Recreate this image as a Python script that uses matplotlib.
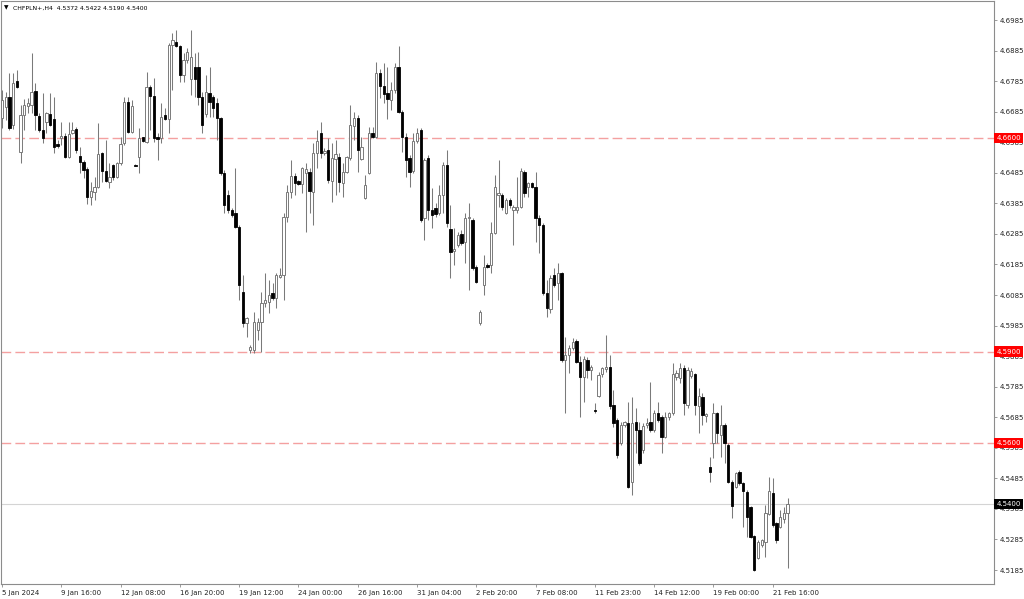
import matplotlib
matplotlib.use("Agg")
import matplotlib.pyplot as plt
import matplotlib.transforms as mtransforms
import numpy as np

symbol_header = "CHFPLN+,H4  4.5372 4.5422 4.5190 4.5400"

# H4 candles, 5 Jan 2024 04:00 .. 22 Feb 2024 08:00
opens = [
    4.6664, 4.6700, 4.6733, 4.6642, 4.6785, 4.6553, 4.6674, 4.6703, 4.6707, 4.6753,
    4.6671, 4.6625, 4.6651, 4.6677, 4.6661, 4.6579, 4.6599, 4.6605, 4.6537, 4.6615,
    4.6629, 4.6540, 4.6520, 4.6497, 4.6406, 4.6422, 4.6439, 4.6550, 4.6491, 4.6455,
    4.6510, 4.6471, 4.6517, 4.6582, 4.6716, 4.6618, 4.6510, 4.6537, 4.6602, 4.6586,
    4.6765, 4.6736, 4.6602, 4.6599, 4.6674, 4.6661, 4.6903, 4.6913, 4.6900, 4.6805,
    4.6854, 4.6792, 4.6831, 4.6831, 4.6733, 4.6677, 4.6746, 4.6733, 4.6713, 4.6664,
    4.6484, 4.6413, 4.6363, 4.6353, 4.6308, 4.6095, 4.5994, 4.5906, 4.5906, 4.5971,
    4.5997, 4.6059, 4.6063, 4.6092, 4.6075, 4.6144, 4.6151, 4.6340, 4.6422, 4.6474,
    4.6458, 4.6448, 4.6484, 4.6488, 4.6422, 4.6550, 4.6615, 4.6550, 4.6560, 4.6458,
    4.6530, 4.6537, 4.6452, 4.6488, 4.6533, 4.6638, 4.6664, 4.6530, 4.6403, 4.6484,
    4.6615, 4.6602, 4.6811, 4.6769, 4.6746, 4.6723, 4.6756, 4.6831, 4.6684, 4.6602,
    4.6533, 4.6491, 4.6589, 4.6625, 4.6337, 4.6533, 4.6363, 4.6370, 4.6353, 4.6413,
    4.6510, 4.6301, 4.6229, 4.6249, 4.6285, 4.6259, 4.6337, 4.6331, 4.6177, 4.5994,
    4.6118, 4.6184, 4.6184, 4.6288, 4.6413, 4.6413, 4.6353, 4.6396, 4.6363, 4.6363,
    4.6373, 4.6488, 4.6439, 4.6452, 4.6439, 4.6337, 4.6314, 4.6092, 4.6039, 4.6151,
    4.6124, 4.6157, 4.5873, 4.5889, 4.5912, 4.5935, 4.5866, 4.5817, 4.5873, 4.5840,
    4.5709, 4.5755, 4.5827, 4.5843, 4.5850, 4.5726, 4.5677, 4.5601, 4.5660, 4.5667,
    4.5474, 4.5670, 4.5644, 4.5579, 4.5660, 4.5670, 4.5644, 4.5699, 4.5686, 4.5621,
    4.5686, 4.5699, 4.5817, 4.5814, 4.5847, 4.5726, 4.5820, 4.5827, 4.5722, 4.5752,
    4.5690, 4.5523, 4.5601, 4.5699, 4.5627, 4.5660, 4.5595, 4.5474, 4.5457, 4.5507,
    4.5471, 4.5441, 4.5392, 4.5297, 4.5225, 4.5268, 4.5278, 4.5369, 4.5438, 4.5340,
    4.5327, 4.5353, 4.5372,
]
highs = [
    4.6756, 4.6749, 4.6811, 4.6811, 4.6821, 4.6707, 4.6726, 4.6730, 4.6877, 4.6778,
    4.6680, 4.6746, 4.6684, 4.6746, 4.6733, 4.6592, 4.6651, 4.6615, 4.6651, 4.6651,
    4.6635, 4.6569, 4.6527, 4.6504, 4.6455, 4.6471, 4.6648, 4.6553, 4.6592, 4.6517,
    4.6513, 4.6520, 4.6602, 4.6733, 4.6733, 4.6723, 4.6513, 4.6632, 4.6602, 4.6815,
    4.6772, 4.6795, 4.6615, 4.6713, 4.6697, 4.6909, 4.6942, 4.6952, 4.6903, 4.6877,
    4.6893, 4.6952, 4.6877, 4.6880, 4.6749, 4.6805, 4.6831, 4.6739, 4.6730, 4.6667,
    4.6494, 4.6429, 4.6370, 4.6501, 4.6314, 4.6151, 4.6013, 4.5922, 4.6030, 4.6010,
    4.6095, 4.6157, 4.6134, 4.6124, 4.6157, 4.6174, 4.6353, 4.6445, 4.6527, 4.6484,
    4.6461, 4.6504, 4.6517, 4.6501, 4.6582, 4.6625, 4.6651, 4.6566, 4.6599, 4.6582,
    4.6592, 4.6550, 4.6517, 4.6540, 4.6707, 4.6684, 4.6674, 4.6602, 4.6478, 4.6635,
    4.6635, 4.6847, 4.6824, 4.6844, 4.6831, 4.6782, 4.6844, 4.6900, 4.6690, 4.6615,
    4.6543, 4.6615, 4.6632, 4.6632, 4.6533, 4.6543, 4.6435, 4.6386, 4.6445, 4.6520,
    4.6560, 4.6380, 4.6304, 4.6291, 4.6298, 4.6353, 4.6386, 4.6337, 4.6184, 4.6036,
    4.6216, 4.6190, 4.6324, 4.6478, 4.6527, 4.6419, 4.6403, 4.6403, 4.6380, 4.6471,
    4.6501, 4.6494, 4.6455, 4.6455, 4.6488, 4.6347, 4.6321, 4.6134, 4.6151, 4.6174,
    4.6190, 4.6161, 4.5948, 4.5922, 4.5945, 4.5942, 4.5886, 4.5886, 4.5883, 4.5857,
    4.5732, 4.5834, 4.5850, 4.5955, 4.5889, 4.5775, 4.5683, 4.5670, 4.5673, 4.5735,
    4.5752, 4.5716, 4.5670, 4.5667, 4.5683, 4.5801, 4.5709, 4.5735, 4.5693, 4.5703,
    4.5703, 4.5863, 4.5840, 4.5863, 4.5857, 4.5850, 4.5847, 4.5830, 4.5781, 4.5765,
    4.5699, 4.5556, 4.5732, 4.5703, 4.5726, 4.5667, 4.5601, 4.5480, 4.5507, 4.5513,
    4.5474, 4.5448, 4.5395, 4.5301, 4.5284, 4.5287, 4.5399, 4.5490, 4.5487, 4.5343,
    4.5382, 4.5392, 4.5422,
]
lows = [
    4.6632, 4.6658, 4.6625, 4.6629, 4.6762, 4.6517, 4.6625, 4.6680, 4.6680, 4.6625,
    4.6618, 4.6582, 4.6615, 4.6638, 4.6550, 4.6566, 4.6576, 4.6533, 4.6533, 4.6612,
    4.6550, 4.6484, 4.6468, 4.6383, 4.6380, 4.6396, 4.6435, 4.6455, 4.6455, 4.6435,
    4.6461, 4.6468, 4.6510, 4.6576, 4.6615, 4.6615, 4.6507, 4.6484, 4.6586, 4.6582,
    4.6625, 4.6586, 4.6527, 4.6582, 4.6658, 4.6615, 4.6756, 4.6896, 4.6782, 4.6782,
    4.6844, 4.6739, 4.6733, 4.6707, 4.6615, 4.6667, 4.6667, 4.6667, 4.6592, 4.6478,
    4.6353, 4.6353, 4.6340, 4.6304, 4.6069, 4.5981, 4.5948, 4.5896, 4.5896, 4.5938,
    4.5899, 4.6046, 4.6026, 4.6069, 4.6043, 4.6141, 4.6069, 4.6324, 4.6403, 4.6413,
    4.6445, 4.6419, 4.6291, 4.6353, 4.6314, 4.6501, 4.6533, 4.6543, 4.6452, 4.6389,
    4.6413, 4.6422, 4.6406, 4.6484, 4.6527, 4.6592, 4.6488, 4.6527, 4.6399, 4.6481,
    4.6599, 4.6599, 4.6730, 4.6713, 4.6661, 4.6690, 4.6746, 4.6680, 4.6553, 4.6471,
    4.6439, 4.6484, 4.6582, 4.6324, 4.6265, 4.6331, 4.6304, 4.6340, 4.6347, 4.6353,
    4.6308, 4.6141, 4.6184, 4.6242, 4.6249, 4.6190, 4.6102, 4.6167, 4.6124, 4.5987,
    4.6085, 4.6174, 4.6157, 4.6285, 4.6373, 4.6363, 4.6350, 4.6370, 4.6249, 4.6353,
    4.6370, 4.6406, 4.6406, 4.6435, 4.6259, 4.6223, 4.6085, 4.6013, 4.6026, 4.6111,
    4.6069, 4.5866, 4.5699, 4.5830, 4.5906, 4.5863, 4.5686, 4.5735, 4.5814, 4.5807,
    4.5699, 4.5752, 4.5817, 4.5834, 4.5713, 4.5654, 4.5553, 4.5595, 4.5654, 4.5454,
    4.5431, 4.5569, 4.5530, 4.5569, 4.5650, 4.5637, 4.5637, 4.5670, 4.5569, 4.5618,
    4.5677, 4.5693, 4.5807, 4.5798, 4.5693, 4.5716, 4.5814, 4.5693, 4.5634, 4.5660,
    4.5670, 4.5474, 4.5553, 4.5601, 4.5556, 4.5536, 4.5471, 4.5356, 4.5454, 4.5464,
    4.5327, 4.5294, 4.5291, 4.5183, 4.5222, 4.5261, 4.5229, 4.5366, 4.5327, 4.5274,
    4.5323, 4.5340, 4.5190,
]
closes = [
    4.6723, 4.6733, 4.6632, 4.6778, 4.6765, 4.6674, 4.6707, 4.6713, 4.6749, 4.6674,
    4.6625, 4.6599, 4.6680, 4.6642, 4.6569, 4.6573, 4.6605, 4.6537, 4.6612, 4.6625,
    4.6560, 4.6520, 4.6494, 4.6406, 4.6426, 4.6439, 4.6547, 4.6491, 4.6458, 4.6471,
    4.6471, 4.6517, 4.6579, 4.6716, 4.6618, 4.6703, 4.6508, 4.6599, 4.6589, 4.6765,
    4.6736, 4.6599, 4.6595, 4.6667, 4.6661, 4.6903, 4.6919, 4.6900, 4.6805, 4.6854,
    4.6880, 4.6864, 4.6792, 4.6733, 4.6642, 4.6749, 4.6716, 4.6697, 4.6664, 4.6484,
    4.6380, 4.6363, 4.6347, 4.6308, 4.6118, 4.5994, 4.6010, 4.5915, 4.5997, 4.5997,
    4.6059, 4.6069, 4.6085, 4.6075, 4.6151, 4.6151, 4.6340, 4.6422, 4.6474, 4.6452,
    4.6448, 4.6501, 4.6497, 4.6426, 4.6550, 4.6589, 4.6550, 4.6556, 4.6461, 4.6533,
    4.6547, 4.6455, 4.6488, 4.6537, 4.6642, 4.6664, 4.6560, 4.6569, 4.6445, 4.6615,
    4.6602, 4.6811, 4.6769, 4.6743, 4.6726, 4.6756, 4.6831, 4.6684, 4.6602, 4.6527,
    4.6488, 4.6589, 4.6615, 4.6331, 4.6527, 4.6363, 4.6347, 4.6350, 4.6413, 4.6510,
    4.6321, 4.6226, 4.6236, 4.6282, 4.6255, 4.6337, 4.6340, 4.6174, 4.6128, 4.6030,
    4.6177, 4.6177, 4.6288, 4.6439, 4.6419, 4.6373, 4.6396, 4.6380, 4.6373, 4.6373,
    4.6491, 4.6419, 4.6452, 4.6439, 4.6337, 4.6314, 4.6092, 4.6043, 4.6141, 4.6118,
    4.6157, 4.5873, 4.5889, 4.5912, 4.5932, 4.5866, 4.5817, 4.5876, 4.5840, 4.5850,
    4.5706, 4.5824, 4.5847, 4.5850, 4.5722, 4.5667, 4.5562, 4.5660, 4.5670, 4.5457,
    4.5667, 4.5644, 4.5536, 4.5657, 4.5667, 4.5644, 4.5699, 4.5677, 4.5621, 4.5686,
    4.5699, 4.5827, 4.5830, 4.5847, 4.5732, 4.5840, 4.5837, 4.5726, 4.5755, 4.5693,
    4.5696, 4.5507, 4.5699, 4.5634, 4.5660, 4.5601, 4.5474, 4.5395, 4.5503, 4.5471,
    4.5444, 4.5359, 4.5294, 4.5186, 4.5278, 4.5284, 4.5372, 4.5444, 4.5333, 4.5284,
    4.5359, 4.5372, 4.5400,
]

date_labels = ["5 Jan 2024", "9 Jan 16:00", "12 Jan 08:00", "16 Jan 20:00",
               "19 Jan 12:00", "24 Jan 00:00", "26 Jan 16:00", "31 Jan 04:00",
               "2 Feb 20:00", "7 Feb 08:00", "11 Feb 23:00", "14 Feb 12:00",
               "19 Feb 00:00", "21 Feb 16:00"]
bars_per_label = 16

price_ticks = [4.6985, 4.6885, 4.6785, 4.6685, 4.6585, 4.6485, 4.6385, 4.6285,
               4.6185, 4.6085, 4.5985, 4.5885, 4.5785, 4.5685, 4.5585, 4.5485,
               4.5385, 4.5285, 4.5185]
levels = [4.6600, 4.5900, 4.5600]
last_price = 4.5400

n = min(len(opens), len(highs), len(lows), len(closes))
o = np.array(opens[:n]); h = np.array(highs[:n])
l = np.array(lows[:n]); c = np.array(closes[:n])
x = np.arange(n)
up = c >= o

FS = 5.0
plt.rcParams['font.family'] = ['DejaVu Sans']

fig = plt.figure(figsize=(10.24, 5.99), dpi=100)
ax = fig.add_axes([1/1024, 15/599, 993/1024, 583/599])
ax.set_xlim(-0.27, 267.7)
ax.set_ylim(4.51392, 4.70472)

# levels
for lv in levels:
    ax.axhline(lv, color='#f4a0a0', lw=1.0, ls=(0, (7, 3)), zorder=1)
ax.axhline(last_price, color='#d4d4d4', lw=0.8, zorder=1)

# wicks
ax.vlines(x, l, h, color='#7a7a7a', lw=0.75, zorder=2)
# bodies
bw = 0.62
bot = np.minimum(o, c)
hgt = np.maximum(np.abs(c - o), 0.00004)
ax.bar(x[up], hgt[up], bottom=bot[up], width=bw, facecolor='white',
       edgecolor='#7a7a7a', linewidth=0.7, zorder=3)
ax.bar(x[~up], hgt[~up], bottom=bot[~up], width=bw, facecolor='black',
       edgecolor='black', linewidth=0.6, zorder=3)

for s in ax.spines.values():
    s.set_color('#8c8c8c')
    s.set_linewidth(0.8)

# x axis
ax.set_xticks([i * bars_per_label for i in range(len(date_labels))])
ax.set_xticklabels(date_labels, fontsize=FS, color='#222222', ha='left')
ax.tick_params(axis='x', length=2.5, width=0.6, color='#8c8c8c', pad=1.5)

# y axis on right
ax.yaxis.tick_right()
ax.set_yticks(price_ticks)
ax.set_yticklabels([f"{p:.4f}" for p in price_ticks], fontsize=FS, color='#222222')
ax.tick_params(axis='y', length=2.5, width=0.6, color='#8c8c8c', pad=1.5)

trans = mtransforms.blended_transform_factory(ax.transAxes, ax.transData)
for lv in levels:
    ax.text(1.0 + 2.5/993, lv, f"{lv:.4f}", transform=trans, fontsize=FS,
            color='white', va='center', ha='left', clip_on=False, zorder=10,
            bbox=dict(boxstyle='square,pad=0.3', fc='#ff0000', ec='none'))
ax.text(1.0 + 2.5/993, last_price, f"{last_price:.4f}", transform=trans, fontsize=FS,
        color='white', va='center', ha='left', clip_on=False, zorder=10,
        bbox=dict(boxstyle='square,pad=0.3', fc='black', ec='none'))

# header
ax.text(3/993, 1 - 7/583, "\u25bc", transform=ax.transAxes, fontsize=4.2,
        color='black', va='center', ha='left')
ax.text(12/993, 1 - 7/583, symbol_header, transform=ax.transAxes, fontsize=4.4,
        color='black', va='center', ha='left')

fig.savefig("out.png", dpi=100, facecolor='white')
